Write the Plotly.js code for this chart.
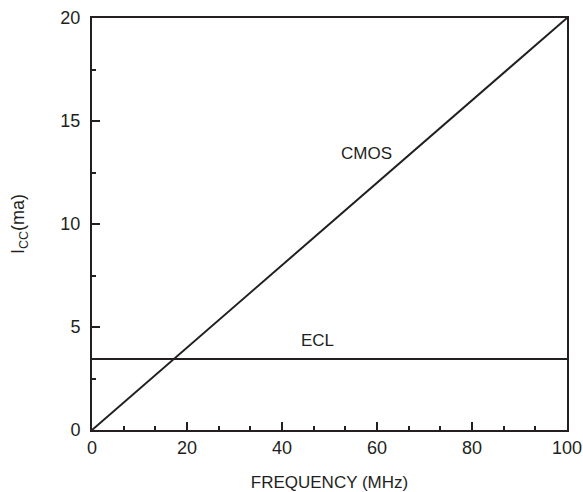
<!DOCTYPE html>
<html>
<head>
<meta charset="utf-8">
<script src="https://cdn.plot.ly/plotly-3.0.1.min.js"></script>
<style>
html,body{margin:0;padding:0;background:#fff;}
#chart{width:583px;height:492px;}
</style>
</head>
<body>
<div id="chart"></div>
<script>
var cmosFreq = [0, 100];
var cmosIcc = [0, 20];
var eclFreq = [0, 100];
var eclIcc = [3.45, 3.45];
var xTickVals = [0, 20, 40, 60, 80, 100];
var yTickVals = [0, 5, 10, 15, 20];
var labelNames = ['CMOS', 'ECL'];
var labelX = [57.7, 47.4];
var labelY = [13.4, 4.35];

var FONT = '"Liberation Sans Narrow", "Arial Narrow", "Liberation Sans", Arial, sans-serif';
var INK = '#231f20';

var traces = [
  {x: cmosFreq, y: cmosIcc, mode: 'lines', line: {color: INK, width: 2}, name: 'CMOS', hoverinfo: 'skip'},
  {x: eclFreq, y: eclIcc, mode: 'lines', line: {color: INK, width: 2}, name: 'ECL', hoverinfo: 'skip'}
];

var annotations = labelNames.map(function(t, i){
  return {x: labelX[i], y: labelY[i], xref: 'x', yref: 'y', text: t, showarrow: false,
          font: {family: FONT, size: 17, color: INK}};
});

var layout = {
  width: 583, height: 492,
  margin: {l: 92, r: 16, t: 18, b: 62},
  paper_bgcolor: '#fff', plot_bgcolor: '#fff',
  showlegend: false,
  font: {family: FONT, size: 17, color: INK},
  xaxis: {
    range: [0, 100], tickvals: xTickVals, ticks: 'inside', ticklen: 8, tickwidth: 2, tickcolor: INK,
    showline: true, linecolor: INK, linewidth: 2, mirror: true, showgrid: false, zeroline: false,
    tickfont: {family: FONT, size: 18, color: INK},
    minor: {dtick: 20/3, tick0: 0, ticks: 'inside', ticklen: 4, tickwidth: 2, tickcolor: INK, showgrid: false},
    title: {text: 'FREQUENCY (MHz)', font: {family: FONT, size: 17, color: INK}, standoff: 21}
  },
  yaxis: {
    range: [0, 20], tickvals: yTickVals, ticks: 'inside', ticklen: 8, tickwidth: 2, tickcolor: INK,
    showline: true, linecolor: INK, linewidth: 2, mirror: true, showgrid: false, zeroline: false,
    tickfont: {family: FONT, size: 18, color: INK}, ticklabelstandoff: 6,
    minor: {dtick: 2.5, tick0: 0, ticks: 'inside', ticklen: 4, tickwidth: 2, tickcolor: INK, showgrid: false},
    title: {text: 'I<sub>CC</sub>(ma)', font: {family: FONT, size: 18, color: INK}, standoff: 31}
  },
  annotations: annotations
};

Plotly.newPlot('chart', traces, layout, {displayModeBar: false, staticPlot: true});
</script>
</body>
</html>
